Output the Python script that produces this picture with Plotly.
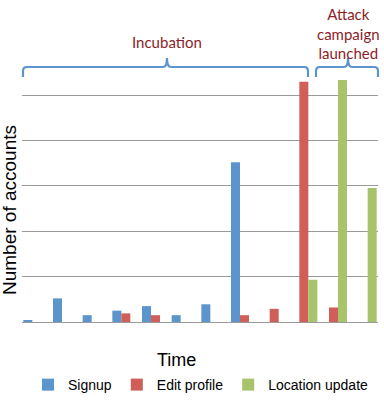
import plotly.graph_objects as go

# ---- data (arbitrary units: 1 unit = 1 gridline step) ----
periods = [f"t{i}" for i in range(1, 13)]
signup = [0.03, 0.52, 0.15, 0.25, 0.35, 0.15, 0.39, 3.52, 0, 0, 0, 0]
edit_profile = [0, 0, 0, 0.19, 0.15, 0, 0, 0.15, 0.29, 5.29, 0.32, 0]
location_update = [0, 0, 0, 0, 0, 0, 0, 0, 0, 0.93, 5.33, 2.95]

series_names = ["Signup", "Edit profile", "Location update"]
series_colors = ["#5B95CB", "#CF5F58", "#A7C46A"]

W, H = 384, 400
L, R, T, B = 22, 6, 78, 78
pw, ph = W - L - R, H - T - B

def px(x):
    return (x - L) / pw

def py(y):
    return (H - B - y) / ph

fig = go.Figure()
for name, vals, col in zip(series_names, [signup, edit_profile, location_update], series_colors):
    fig.add_trace(go.Bar(x=periods, y=vals, name=name, marker=dict(color=col, line=dict(width=0))))

def brace(x0, x1, xm, yb=77, yh=67, yt=58, r=4):
    pts = (
        f"M {px(x0)},{py(yb)} L {px(x0)},{py(yh + r)} "
        f"Q {px(x0)},{py(yh)} {px(x0 + r)},{py(yh)} "
        f"L {px(xm - r)},{py(yh)} Q {px(xm)},{py(yh)} {px(xm)},{py(yt)} "
        f"Q {px(xm)},{py(yh)} {px(xm + r)},{py(yh)} "
        f"L {px(x1 - r)},{py(yh)} Q {px(x1)},{py(yh)} {px(x1)},{py(yh + r)} "
        f"L {px(x1)},{py(yb)}"
    )
    return dict(type="path", path=pts, xref="paper", yref="paper",
                line=dict(color="#5B95CB", width=2.2))

fig.update_layout(shapes=[brace(23, 308, 167), brace(316, 378, 348)])

anno_font = dict(family="Lato, Liberation Sans, sans-serif", size=15, color="#8B1E26")
fig.add_annotation(text="Incubation", x=px(167), y=py(42), xref="paper", yref="paper",
                   showarrow=False, font=anno_font, xanchor="center", yanchor="middle")
fig.add_annotation(text="Attack<br>campaign<br>launched", x=px(348), y=py(33),
                   xref="paper", yref="paper", showarrow=False, font=anno_font,
                   xanchor="center", yanchor="middle")
fig.add_annotation(text="Time", x=px(176), y=py(360), xref="paper", yref="paper",
                   showarrow=False, font=dict(family="Liberation Sans, Arial", size=18, color="#000"),
                   xanchor="center", yanchor="middle")
fig.add_annotation(text="Number of accounts", x=px(10), y=py(210), xref="paper", yref="paper",
                   showarrow=False, textangle=-90,
                   font=dict(family="Liberation Sans, Arial", size=19, color="#000"),
                   xanchor="center", yanchor="middle")

fig.update_layout(
    width=W, height=H,
    margin=dict(l=L, r=R, t=T, b=B, autoexpand=False),
    paper_bgcolor="white", plot_bgcolor="white",
    barmode="group", bargap=0.09, bargroupgap=0,
    font=dict(family="Liberation Sans, Arial", size=14, color="#000"),
    showlegend=True,
    legend=dict(orientation="h", x=px(201), xanchor="center", y=py(385), yanchor="middle",
                font=dict(size=14), itemwidth=30, bgcolor="rgba(0,0,0,0)"),
    xaxis=dict(showticklabels=False, ticks="", showgrid=False, showline=True,
               linecolor="#9A9A9A", linewidth=1, range=[-0.5, 11.5]),
    yaxis=dict(range=[0, ph / 45.4], dtick=1, showticklabels=False, ticks="",
               showgrid=True, gridcolor="#9A9A9A", gridwidth=1, zeroline=False, showline=False),
)

fig.write_html("out.html", config={"displayModeBar": False},
               post_script="document.body.style.margin='0';document.body.style.padding='0';")
